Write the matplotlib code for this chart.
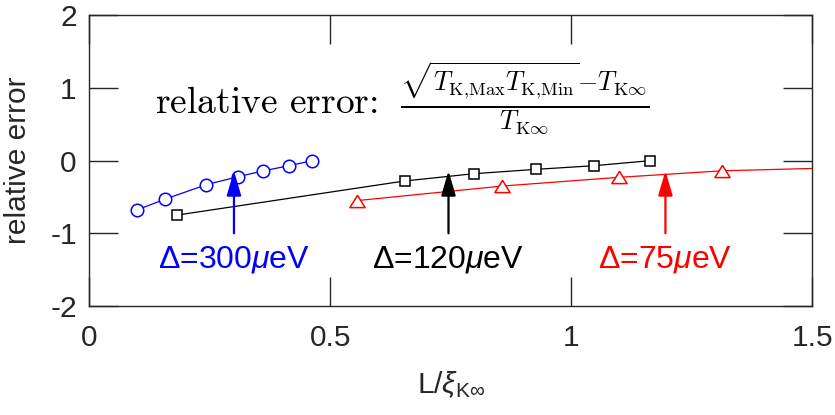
import numpy as np
import matplotlib
matplotlib.use('Agg')
import matplotlib.pyplot as plt

plt.rcParams['font.family'] = ['Liberation Sans', 'DejaVu Sans']
plt.rcParams['mathtext.fontset'] = 'custom'
plt.rcParams['mathtext.rm'] = 'Liberation Sans'
plt.rcParams['mathtext.it'] = 'Liberation Sans:italic'
plt.rcParams['mathtext.bf'] = 'Liberation Sans:bold'

# data
x_300 = [0.098, 0.157, 0.243, 0.309, 0.361, 0.414, 0.462]
y_300 = [-0.68, -0.53, -0.33, -0.22, -0.14, -0.07, 0.0]

x_120 = [0.181, 0.654, 0.797, 0.926, 1.046, 1.164]
y_120 = [-0.75, -0.28, -0.18, -0.12, -0.07, 0.0]

x_75 = [0.555, 0.856, 1.098, 1.312, 1.60]
y_75 = [-0.55, -0.35, -0.23, -0.14, -0.09]

arrow_x = [0.30, 0.745, 1.195]
arrow_tail = -1.0
arrow_tip = -0.14
labels = [r'$\Delta$=300$\mu$eV', r'$\Delta$=120$\mu$eV', r'$\Delta$=75$\mu$eV']
colors = ['#0000ff', 'black', '#ff0000']

fg = '#262626'

fig = plt.figure(figsize=(8.35, 4.15), dpi=100)
ax = fig.add_axes([0.107, 0.2627, 0.866, 0.7004])

tri = [(0, 0.8), (-1, -0.8), (1, -0.8), (0, 0.8)]

ax.plot(x_300, y_300, '-o', color=colors[0], lw=0.9, ms=9, mfc='white', mew=1.1)
ax.plot(x_120, y_120, '-s', color=colors[1], lw=0.9, ms=7, mfc='white', mew=1.1)
ax.plot(x_75, y_75, '-', marker=tri, color=colors[2], lw=0.9, ms=11, mfc='white', mew=1.1)

for xa, lab, c in zip(arrow_x, labels, colors):
    ax.annotate('', xy=(xa, arrow_tip), xytext=(xa, arrow_tail),
                arrowprops=dict(arrowstyle='-|>,head_length=0.75,head_width=0.22',
                                color=c, lw=1.6, mutation_scale=20,
                                shrinkA=0, shrinkB=0))
    ax.text(xa, -1.47, lab, color=c, fontsize=23, ha='center', va='baseline')

# formula in computer modern
formula = (r'relative error: '
           r'$\;\frac{\sqrt{T_{\mathrm{K{,}Max}}T_{\mathrm{K{,}Min}}}{-}T_{\mathrm{K}\infty}}'
           r'{T_{\mathrm{K}\infty}}$')
ax.text(0.136, 0.865, formula, fontsize=27, ha='left', va='center',
        family='cmr10', math_fontfamily='cm', color='black')

ax.set_xlim(0, 1.5)
ax.set_ylim(-2, 2)
ax.set_xticks([0, 0.5, 1, 1.5])
ax.set_xticklabels(['0', '0.5', '1', '1.5'])
ax.set_yticks([-2, -1, 0, 1, 2])
ax.set_yticklabels(['-2', '-1', '0', '1', '2'])
ax.tick_params(direction='in', length=21, width=1.0, colors=fg, labelsize=21.5,
               top=True, right=True)
ax.tick_params(axis='x', pad=13)
ax.tick_params(axis='y', pad=9)
for sp in ax.spines.values():
    sp.set_color(fg)
    sp.set_linewidth(1.0)

ax.set_xlabel(r'L/$\xi_{\mathrm{K}\infty}$', fontsize=21.5, color=fg, labelpad=12)
ax.set_ylabel('relative error', fontsize=21.5, color=fg, labelpad=13)

fig.savefig('out.png', dpi=100)
